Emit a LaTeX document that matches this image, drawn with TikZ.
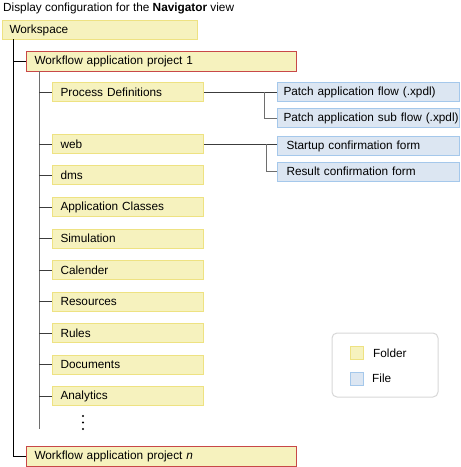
\documentclass[tikz,border=0pt]{standalone}
\usepackage{fontspec}
\setmainfont{Liberation Sans}
\begin{document}
\begin{tikzpicture}[x=1pt,y=-1pt,
  every node/.style={font=\fontsize{11.8pt}{14pt}\selectfont},
  boxbase/.style={anchor=north west, inner xsep=8pt, inner ysep=0pt, align=left, line width=1pt},
  folder/.style={boxbase, draw=folderline, fill=folderfill, minimum width=151pt, text width=135pt, minimum height=19pt},
  project/.style={boxbase, draw=projline, fill=folderfill, minimum width=270pt, text width=254pt, minimum height=20pt},
  wsbox/.style={boxbase, draw=folderline, fill=folderfill, minimum width=195pt, text width=181pt, minimum height=19pt, inner xsep=7pt},
  filebox/.style={boxbase, draw=fileline, fill=filefill, minimum width=182pt, text width=170pt, minimum height=19pt, inner xsep=6pt},
  trunk/.style={line width=1pt, draw=black},
  ptrunk/.style={line width=1pt, draw=trunkgray},
  branch/.style={line width=1pt, draw=branchgray},
  swatch/.style={draw, line width=1pt, minimum width=13pt, minimum height=13pt, inner sep=0pt, anchor=north west},
  legtext/.style={anchor=west, inner sep=0pt},
  dotmark/.style={fill=black, circle, inner sep=0pt, minimum size=2.2pt}
]
\definecolor{folderfill}{RGB}{246,242,190}
\definecolor{folderline}{RGB}{238,226,130}
\definecolor{projline}{RGB}{200,72,72}
\definecolor{filefill}{RGB}{220,230,242}
\definecolor{fileline}{RGB}{165,200,235}
\definecolor{trunkgray}{RGB}{110,110,110}
\definecolor{branchgray}{RGB}{60,60,60}
\definecolor{legline}{RGB}{215,215,215}
\useasboundingbox (0,0) rectangle (461,467);

\node[anchor=base west, inner sep=0pt] (title) at (3,11) {Display configuration for the \textbf{Navigator} view};

\node[wsbox] (ws) at (2,20) {Workspace};
\node[project] (p1) at (26,51) {Workflow application project 1};
\node[project] (pn) at (26,446) {Workflow application project \textit{n}};

\node[folder] (f1) at (52,82) {Process Definitions};
\node[folder] (f2) at (52,134) {web};
\node[folder] (f3) at (52,165) {dms};
\node[folder] (f4) at (52,197) {Application Classes};
\node[folder] (f5) at (52,228.5) {Simulation};
\node[folder] (f6) at (52,260) {Calender};
\node[folder] (f7) at (52,291.5) {Resources};
\node[folder] (f8) at (52,323) {Rules};
\node[folder] (f9) at (52,354.5) {Documents};
\node[folder] (f10) at (52,386) {Analytics};

\node[filebox] (x1) at (277,82) {Patch application flow (.xpdl)};
\node[filebox] (x2) at (277,108) {\mbox{Patch application sub flow (.xpdl)}};
\node[filebox, inner xsep=9pt, text width=164pt] (x3) at (277,136) {Startup confirmation form};
\node[filebox, inner xsep=9pt, text width=164pt] (x4) at (277,161.5) {Result confirmation form};

% workspace trunk
\coordinate (wstop) at (13,39);
\draw[trunk] (wstop) -- (wstop |- pn.west) -- (pn.west);
\draw[trunk] (wstop |- p1.west) -- (p1.west);

% project trunk
\coordinate (ptop) at (39,71);
\coordinate (pbot) at (39,429);
\draw[ptrunk] (ptop) -- (pbot);
\foreach \f in {f1,f2,f3,f4,f5,f6,f7,f8,f9,f10}{
  \draw[branch] (ptop |- \f.west) -- (\f.west);
}

% file branches
\coordinate (b1) at (264,0);
\draw[branch] (f1.east) -- (x1.west |- f1.east);
\draw[ptrunk] (b1 |- f1.east) -- (b1 |- x2.west) -- (x2.west);
\coordinate (b2) at (266,0);
\draw[branch] (f2.east) -- (x3.west |- f2.east);
\draw[ptrunk] (b2 |- f2.east) -- (b2 |- x4.west) -- (x4.west);

% dots
\node[dotmark] (d1) at (83,416) {};
\node[dotmark] (d2) at (83,422.5) {};
\node[dotmark] (d3) at (83,429) {};

% legend
\draw[legline, line width=1pt, rounded corners=5pt] (332,333) rectangle (438,397);
\node[swatch, draw=folderline, fill=folderfill] (lf) at (350,346) {};
\node[legtext] (lft) at (373,353) {Folder};
\node[swatch, draw=fileline, fill=filefill] (lx) at (350,372) {};
\node[legtext] (lxt) at (372,378) {File};
\end{tikzpicture}
\end{document}
